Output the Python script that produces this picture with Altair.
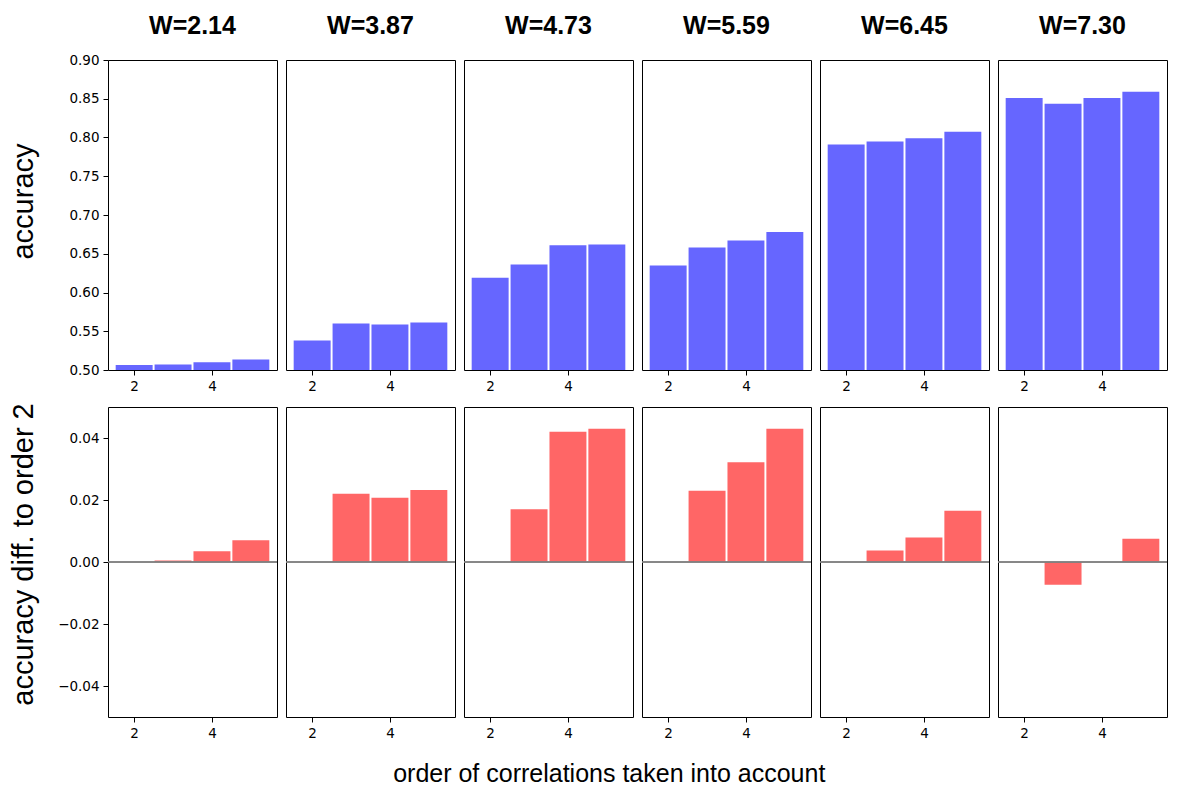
import altair as alt
import pandas as pd

W_LABELS = ["W=2.14", "W=3.87", "W=4.73", "W=5.59", "W=6.45", "W=7.30"]
ORDERS = [2, 3, 4, 5]
ACC = [
    [0.5065, 0.5070, 0.5100, 0.5135],
    [0.5380, 0.5600, 0.5587, 0.5612],
    [0.6190, 0.6360, 0.6610, 0.6620],
    [0.6350, 0.6580, 0.6670, 0.6780],
    [0.7910, 0.7947, 0.7990, 0.8075],
    [0.8510, 0.8437, 0.8510, 0.8590],
]
DIFF = [
    [0.0, 0.0005, 0.0035, 0.0070],
    [0.0, 0.0220, 0.0207, 0.0232],
    [0.0, 0.0170, 0.0420, 0.0430],
    [0.0, 0.0230, 0.0322, 0.0430],
    [0.0, 0.0037, 0.0079, 0.0165],
    [0.0, -0.0073, 0.0000, 0.0075],
]
ACC_TICKS = [0.50, 0.55, 0.60, 0.65, 0.70, 0.75, 0.80, 0.85, 0.90]
DIFF_TICKS = [-0.04, -0.02, 0.00, 0.02, 0.04]
X_TICKS = [2, 4]

PW, PH = 169, 310
XDOM = [1.3275, 5.6725]
LABEL_FONT = "DejaVu Sans"
TITLE_FONT = "Liberation Sans"

def xenc():
    return alt.X("x1:Q", scale=alt.Scale(domain=XDOM, nice=False, zero=False),
                 axis=alt.Axis(values=X_TICKS, format="d", title=None))

def top_panel(i):
    df = pd.DataFrame({"order": ORDERS, "acc": ACC[i]})
    if i == 0:
        yaxis = alt.Axis(values=ACC_TICKS, format=".2f", title="accuracy",
                         titleFont=TITLE_FONT, titleFontSize=29, titleFontWeight="normal",
                         titleColor="black", titleX=-70, titleY=141)
    else:
        yaxis = None
    bars = alt.Chart(df).transform_calculate(
        x1="datum.order - 0.475", x2="datum.order + 0.475"
    ).mark_bar(color="#6666ff").encode(
        x=xenc(),
        x2="x2:Q",
        y=alt.Y("acc:Q", scale=alt.Scale(domain=[0.5, 0.9], nice=False, zero=False), axis=yaxis),
        y2=alt.datum(0.5),
    )
    return bars.properties(
        width=PW, height=PH,
        title=alt.TitleParams(W_LABELS[i], font=TITLE_FONT, fontSize=25, fontWeight="bold",
                              color="black", baseline="alphabetic", offset=1, frame="group",
                              dy=7 if i == 0 else 0),
    )

def bottom_panel(i):
    df = pd.DataFrame({"order": ORDERS, "diff": DIFF[i]})
    if i == 0:
        yaxis = alt.Axis(values=DIFF_TICKS, format=".2f", title="accuracy diff. to order 2",
                         titleFont=TITLE_FONT, titleFontSize=29, titleFontWeight="normal",
                         titleColor="black", titleX=-70, titleY=147)
    else:
        yaxis = None
    yscale = alt.Scale(domain=[-0.05, 0.05], nice=False, zero=False)
    bars = alt.Chart(df).transform_calculate(
        x1="datum.order - 0.475", x2="datum.order + 0.475"
    ).mark_bar(color="#ff6666").encode(
        x=xenc(),
        x2="x2:Q",
        y=alt.Y("diff:Q", scale=yscale, axis=yaxis),
        y2=alt.datum(0),
    )
    zero = alt.Chart(df).mark_rule(color="#808080", strokeWidth=1).encode(
        y=alt.datum(0)
    )
    return alt.layer(bars, zero).properties(width=PW, height=PH)

panels = [top_panel(i) for i in range(6)] + [bottom_panel(i) for i in range(6)]

chart = alt.concat(*panels, columns=6, spacing={"row": 37, "column": 9}, bounds="flush").properties(
    title=alt.TitleParams("order of correlations taken into account", orient="bottom",
                          font=TITLE_FONT, fontSize=25, fontWeight="normal", color="black",
                          offset=22, anchor="middle", dx=21),
    padding={"left": 0, "top": 5, "right": 1, "bottom": 0},
).configure_view(
    stroke="black", strokeWidth=1
).configure_axis(
    grid=False, domain=False, tickColor="black", tickSize=5, tickWidth=1,
    labelColor="black", labelFont=LABEL_FONT, labelFontSize=13.5, labelPadding=4,
)

chart.save("out.html", embed_options={"renderer": "svg", "actions": False})
